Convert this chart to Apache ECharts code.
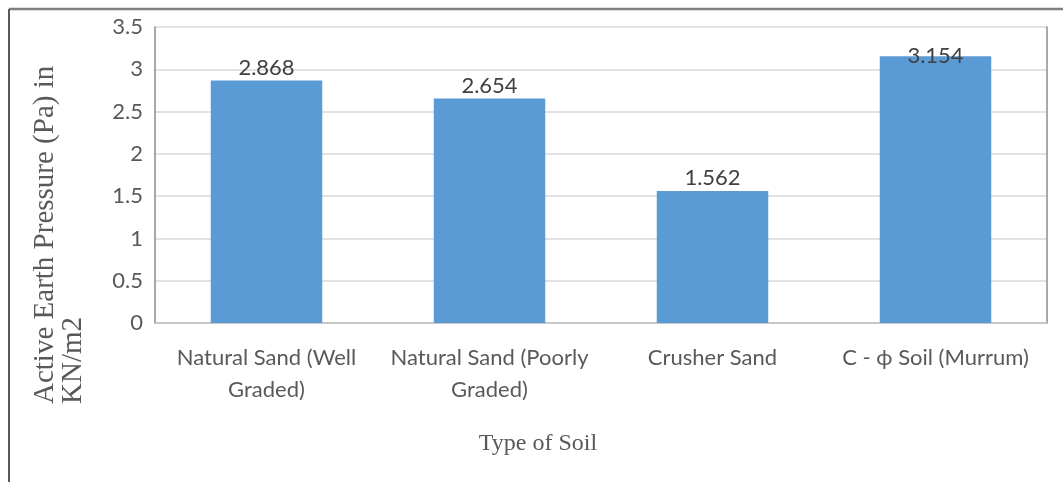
<!DOCTYPE html>
<html>
<head>
<meta charset="utf-8">
<title>Active Earth Pressure by Type of Soil</title>
<script src="https://cdn.jsdelivr.net/npm/echarts@6/dist/echarts.min.js"></script>
<style>
  html, body { margin: 0; padding: 0; background: #ffffff; }
  #chart { width: 1063px; height: 482px; }
</style>
</head>
<body>
<div id="chart"></div>
<script>
// Soil types on the x axis and their active earth pressure (KN/m2)
const soilTypes = [
  'Natural Sand (Well\nGraded)',
  'Natural Sand (Poorly\nGraded)',
  'Crusher Sand',
  'C - \u03D5 Soil (Murrum)'
];
const pressureValues = [2.868, 2.654, 1.562, 3.154];
const yTickLabels = ['0', '0.5', '1', '1.5', '2', '2.5', '3', '3.5'];
const yStep = 0.5;

const sansFont = 'Lato, "Open Sans", sans-serif';
const serifFont = '"Liberation Serif", "Times New Roman", serif';

const chart = echarts.init(document.getElementById('chart'), null, { renderer: 'canvas' });

const barData = pressureValues.map(function (v, i) {
  const item = { value: v };
  // last label sits over the top edge of its bar
  if (i === pressureValues.length - 1) {
    item.label = { offset: [0, 13] };
  }
  return item;
});

chart.setOption({
  backgroundColor: '#ffffff',
  animation: false,
  grid: { left: 155, right: 16, top: 27, bottom: 159, containLabel: false },
  xAxis: {
    type: 'category',
    data: soilTypes,
    axisLine: { show: true, lineStyle: { color: '#bfbfbf', width: 1.5 } },
    axisTick: { show: false },
    axisLabel: {
      interval: 0,
      margin: 19,
      color: '#595959',
      fontFamily: sansFont,
      fontSize: 22,
      lineHeight: 32
    }
  },
  yAxis: [
    {
      type: 'value',
      min: 0,
      max: 3.5,
      interval: yStep,
      axisLine: { show: true, lineStyle: { color: '#8c8c8c', width: 1.5 } },
      axisTick: { show: false },
      splitLine: { show: true, lineStyle: { color: '#d9d9d9', width: 1.5 } },
      axisLabel: {
        margin: 12,
        color: '#595959',
        fontFamily: sansFont,
        fontSize: 22,
        formatter: function (v) { return yTickLabels[Math.round(v / yStep)]; }
      }
    },
    {
      type: 'value',
      position: 'right',
      min: 0,
      max: 3.5,
      interval: yStep,
      axisLine: { show: true, lineStyle: { color: '#8c8c8c', width: 1.5 } },
      axisTick: { show: false },
      axisLabel: { show: false },
      splitLine: { show: false }
    }
  ],
  series: [
    {
      type: 'bar',
      data: barData,
      barWidth: '50%',
      itemStyle: { color: '#5b9bd5' },
      label: {
        show: true,
        position: 'top',
        distance: 2,
        color: '#404040',
        fontFamily: sansFont,
        fontSize: 22,
        formatter: function (p) { return String(p.value); }
      }
    }
  ],
  graphic: [
    // frame around the figure (top and left edges)
    {
      type: 'line',
      shape: { x1: 9, y1: 9, x2: 1063, y2: 9 },
      style: { stroke: '#7f7f7f', lineWidth: 2.5 }
    },
    {
      type: 'line',
      shape: { x1: 9, y1: 9, x2: 9, y2: 482 },
      style: { stroke: '#595959', lineWidth: 2 }
    },
    // y-axis title
    {
      type: 'text',
      x: 31,
      y: 404,
      rotation: Math.PI / 2,
      style: {
        text: 'Active Earth Pressure (Pa) in\nKN/m2',
        fill: '#595959',
        font: '29px ' + serifFont,
        lineHeight: 28,
        align: 'left',
        verticalAlign: 'top'
      }
    },
    // x-axis title
    {
      type: 'text',
      x: 538,
      y: 444,
      style: {
        text: 'Type of Soil',
        fill: '#595959',
        font: '24px ' + serifFont,
        align: 'center',
        verticalAlign: 'middle'
      }
    }
  ]
});
</script>
</body>
</html>
